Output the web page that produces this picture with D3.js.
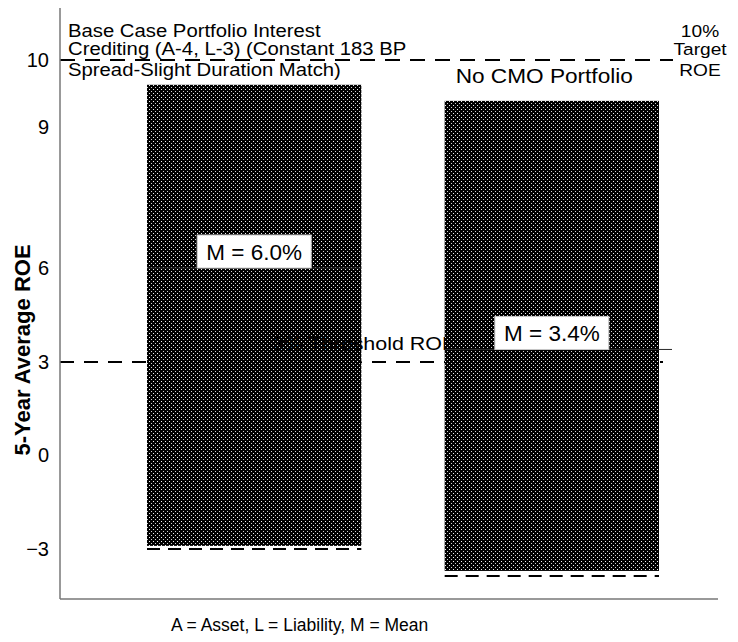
<!DOCTYPE html>
<html><head><meta charset="utf-8">
<script src="https://cdn.jsdelivr.net/npm/d3@7/dist/d3.min.js"></script>
<style>
html,body{margin:0;padding:0;background:#fff;}
svg{display:block;font-family:"Liberation Sans",Arial,Helvetica,sans-serif;}
</style></head><body>
<svg id="chart" width="738" height="642"></svg>
<script>
// Portfolio scenarios and their 5-year average ROE ranges (%)
const categories = ["Base Case", "No CMO Portfolio"];
const highValues = [9.63, 9.39];
const lowValues = [-2.9, -3.7];
const lowMarkerValues = [-3.0, -3.86];
const meanValues = [6.0, 3.4];
const meanLabels = ["M = 6.0%", "M = 3.4%"];
const targetROE = 10;
const thresholdROE = 3;
const yTickValues = [-3, 0, 3, 6, 9, 10];
const yTickLabels = ["\u22123", "0", "3", "6", "9", "10"];
const baseCaseTitle = ["Base Case Portfolio Interest", "Crediting (A-4, L-3) (Constant 183 BP", "Spread-Slight Duration Match)"];
const barTitles = [null, "No CMO Portfolio"];
const targetLabel = ["10%", "Target", "ROE"];
const thresholdLabel = "3% Threshold ROE";
const yAxisTitle = "5-Year Average ROE";
const footnote = "A = Asset, L = Liability, M = Mean";

// ---- layout ----
const svg = d3.select("#chart");
const axisX = 60, axisTop = 8, axisBottom = 599, axisRight = 718;
const sx = 1.16; // horizontal text stretch used by the annotation type
const noteBaselines = [37, 55, 76];

// broken value axis: each labelled segment has its own spacing
const y = d3.scaleLinear().domain(yTickValues).range([549, 455, 362, 268, 127, 60]);
const x = d3.scaleBand().domain(categories).range([147, 659]).paddingInner(0.28).paddingOuter(0);

// dotted black fill
const defs = svg.append("defs");
const pat = defs.append("pattern").attr("id", "dots")
  .attr("patternUnits", "userSpaceOnUse").attr("width", 4).attr("height", 4);
pat.append("rect").attr("width", 4).attr("height", 4).attr("fill", "#000");
pat.append("rect").attr("x", 1).attr("y", 1).attr("width", 1).attr("height", 1).attr("fill", "#f2f2f2");
pat.append("rect").attr("x", 3).attr("y", 3).attr("width", 1).attr("height", 1).attr("fill", "#d0d0d0");

function stretched(parent, px, py, str, size, anchor) {
  return parent.append("text")
    .attr("transform", `translate(${px},${py}) scale(${sx},1)`)
    .attr("font-size", size)
    .attr("text-anchor", anchor || "start")
    .attr("fill", "#000")
    .text(str);
}

// threshold reference line (behind the bars)
svg.append("line")
  .attr("x1", axisX).attr("x2", 663)
  .attr("y1", y(thresholdROE)).attr("y2", y(thresholdROE))
  .attr("stroke", "#000").attr("stroke-width", 2).attr("stroke-dasharray", "14,10");

// target reference line
svg.append("line")
  .attr("x1", axisX).attr("x2", 673)
  .attr("y1", y(targetROE)).attr("y2", y(targetROE))
  .attr("stroke", "#000").attr("stroke-width", 2).attr("stroke-dasharray", "15,10");

// axes spines
svg.append("line").attr("x1", axisX).attr("x2", axisX).attr("y1", axisTop).attr("y2", axisBottom)
  .attr("stroke", "#777").attr("stroke-width", 1.5);
svg.append("line").attr("x1", axisX).attr("x2", axisRight).attr("y1", axisBottom).attr("y2", axisBottom)
  .attr("stroke", "#777").attr("stroke-width", 1.5);

// y axis ticks
const yAxis = d3.axisLeft(y).tickValues(yTickValues)
  .tickFormat((d, i) => yTickLabels[i]).tickSize(0).tickPadding(11);
const gy = svg.append("g").attr("transform", `translate(${axisX},0)`).call(yAxis);
gy.select(".domain").remove();
gy.attr("font-family", null).attr("font-size", null);
gy.selectAll("text").attr("font-size", 20).attr("fill", "#000");

// y axis title
svg.append("text")
  .attr("transform", "translate(30,350) rotate(-90)")
  .attr("text-anchor", "middle")
  .attr("font-size", 22).attr("font-weight", "bold")
  .text(yAxisTitle);

// base case heading
baseCaseTitle.forEach((t, i) => stretched(svg, 68, noteBaselines[i], t, 17.5));

// target annotation
targetLabel.forEach((t, i) => stretched(svg, 700, noteBaselines[i], t, 16.5, "middle"));

// bars
const rows = categories.map((c, i) => ({
  cat: c, hi: highValues[i], lo: lowValues[i], mark: lowMarkerValues[i],
  mean: meanValues[i], label: meanLabels[i], title: barTitles[i], i
}));

const groups = svg.selectAll("g.bar").data(rows).join("g").attr("class", "bar");

groups.append("rect")
  .attr("x", d => x(d.cat))
  .attr("y", d => y(d.hi))
  .attr("width", x.bandwidth())
  .attr("height", d => y(d.lo) - y(d.hi))
  .attr("fill", "url(#dots)");

groups.append("line")
  .attr("x1", d => x(d.cat)).attr("x2", d => x(d.cat) + x.bandwidth())
  .attr("y1", d => y(d.mark)).attr("y2", d => y(d.mark))
  .attr("stroke", "#000").attr("stroke-width", 2).attr("stroke-dasharray", "13,8");

groups.append("line")
  .attr("x1", d => x(d.cat))
  .attr("x2", d => x(d.cat) + x.bandwidth() + (d.i === 1 ? 13 : 0))
  .attr("y1", d => y(d.mean)).attr("y2", d => y(d.mean))
  .attr("stroke", "#2a2a2a").attr("stroke-width", 1);

groups.append("rect")
  .attr("x", d => x(d.cat) + x.bandwidth() / 2 - 57)
  .attr("y", d => y(d.mean) - 33)
  .attr("width", 114).attr("height", 33)
  .attr("fill", "#fff").attr("stroke", "#c8c8c8").attr("stroke-width", 1);

groups.append("text")
  .attr("x", d => x(d.cat) + x.bandwidth() / 2)
  .attr("y", d => y(d.mean) - 8.5)
  .attr("text-anchor", "middle")
  .attr("font-size", 22.5)
  .text(d => d.label);

groups.filter(d => d.title).each(function (d) {
  stretched(d3.select(this), x(d.cat) + 11, 83, d.title, 19.5);
});

// threshold label sits over the first bar and under the second
stretched(svg, 272, 350, thresholdLabel, 18.5);
d3.select(groups.nodes()[1]).raise();

// footnote
svg.append("text").attr("x", 171).attr("y", 631)
  .attr("font-size", 17.5).text(footnote);
</script>
</body></html>
